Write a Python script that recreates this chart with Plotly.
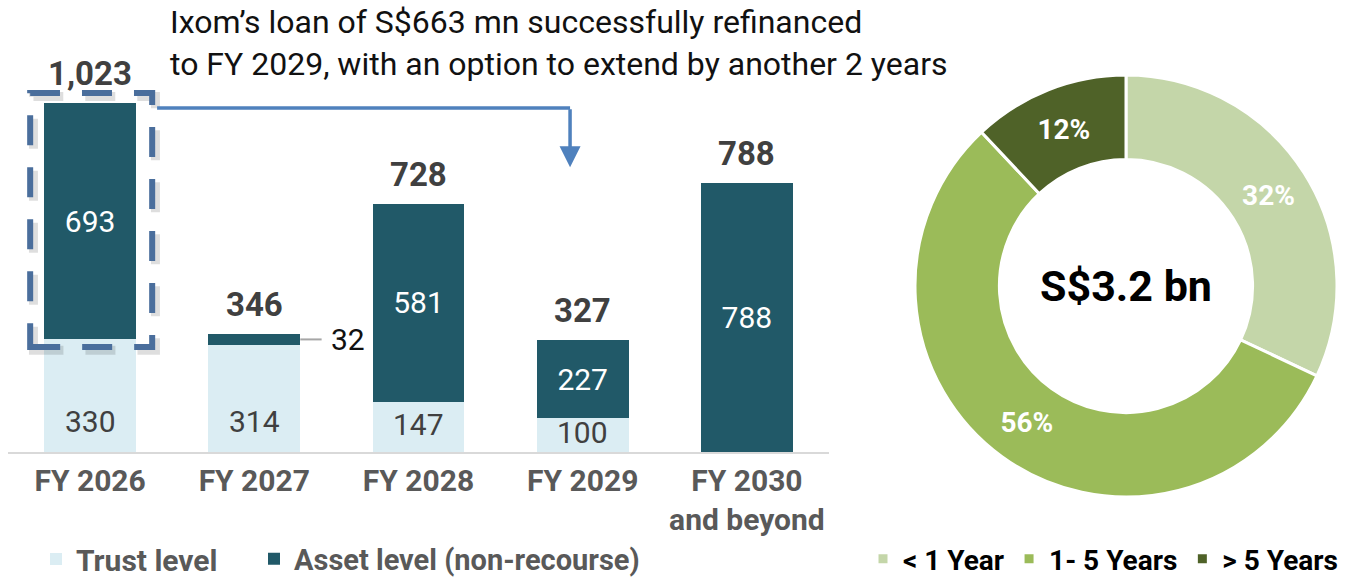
import plotly.graph_objects as go

# ---- data ----
categories = ["FY 2026", "FY 2027", "FY 2028", "FY 2029", "FY 2030<br>and beyond"]
trust_level = [330, 314, 147, 100, 0]
asset_level = [693, 32, 581, 227, 788]
totals = [1023, 346, 728, 327, 788]
total_labels = ["1,023", "346", "728", "327", "788"]

pie_labels = ["< 1 Year", "1- 5 Years", "> 5 Years"]
pie_values = [32, 56, 12]
pie_center_text = "S$3.2 bn"
note_text = "Ixom’s loan of S$663 mn successfully refinanced<br>to FY 2029, with an option to extend by another 2 years"

# ---- style ----
W, H = 1348, 578
FONT = "Roboto"
LIGHT = "#DBEDF3"
DARK = "#215968"
GRAY = "#595959"
LBL = "#404040"
PIE_COLORS = ["#C4D6A9", "#9BBB59", "#4F6228"]
BLUE = "#4F81BD"


def px(x):   # screen x -> paper fraction
    return x / W


def py(y):   # screen y -> paper fraction (from bottom)
    return 1 - y / H


x_idx = list(range(len(categories)))

fig = go.Figure()

fig.add_trace(go.Bar(
    x=x_idx, y=trust_level, name="<b>Trust level</b>",
    marker=dict(color=LIGHT, line=dict(width=0)),
    legend="legend", showlegend=True, hoverinfo="skip",
))
fig.add_trace(go.Bar(
    x=x_idx, y=asset_level, name="<b>Asset level (non-recourse)</b>",
    marker=dict(color=DARK, line=dict(width=0)),
    text=[str(v) if v > 60 else "" for v in asset_level],
    textposition="inside", insidetextanchor="middle",
    textfont=dict(family=FONT, size=30, color="white"),
    legend="legend3", showlegend=True, hoverinfo="skip",
))

# trust-level labels near the base of the bars
for i, v in enumerate(trust_level):
    if v > 0:
        fig.add_annotation(x=i, y=min(88, v / 2 + 6), text=str(v), showarrow=False,
                           xref="x", yref="y", xanchor="center", yanchor="middle",
                           font=dict(family=FONT, size=30, color=LBL))

# totals above bars
for i, (t, lab) in enumerate(zip(totals, total_labels)):
    fig.add_annotation(x=i, y=t, text=f"<b>{lab}</b>", showarrow=False,
                       yanchor="bottom", xanchor="center", yshift=8, xref="x", yref="y",
                       font=dict(family=FONT, size=33, color=LBL))

# small outside label for FY 2027 asset level
small_i = 1
small_y = trust_level[small_i] + asset_level[small_i] / 2
fig.add_shape(type="line", xref="x", yref="y",
              x0=small_i + 0.28, x1=small_i + 0.41, y0=small_y, y1=small_y,
              line=dict(color="#A6A6A6", width=2))
fig.add_annotation(x=small_i + 0.455, y=small_y, text=str(asset_level[small_i]),
                   showarrow=False, xanchor="left", yanchor="middle", xref="x", yref="y",
                   font=dict(family=FONT, size=30, color="#111111"))

# dashed highlight box around FY 2026
box_x0, box_x1 = -0.365, 0.378
box_y0, box_y1 = trust_level[0] - 22, totals[0] + 29
fig.add_shape(type="rect", xref="x", yref="y",
              x0=box_x0 + 0.02, x1=box_x1 + 0.02, y0=box_y0 - 10, y1=box_y1 - 10,
              line=dict(color="rgba(0,0,0,0.13)", width=9, dash="30px,22px"))
fig.add_shape(type="rect", xref="x", yref="y",
              x0=box_x0, x1=box_x1, y0=box_y0, y1=box_y1,
              line=dict(color="#4A6E9C", width=6, dash="30px,22px"))

# connector arrow to FY 2029
arrow_y = totals[0] - 15
arrow_end_x = 2.923
fig.add_shape(type="line", xref="x", yref="y",
              x0=box_x1 + 0.03, x1=arrow_end_x, y0=arrow_y, y1=arrow_y,
              line=dict(color=BLUE, width=3.5))
fig.add_annotation(x=arrow_end_x, y=arrow_y - 173, ax=arrow_end_x, ay=arrow_y + 1,
                   xref="x", yref="y", axref="x", ayref="y", text="",
                   showarrow=True, arrowhead=2, arrowsize=1.2, arrowwidth=3.5,
                   arrowcolor=BLUE)

# note text
fig.add_annotation(x=px(168), y=py(43.5), xref="paper", yref="paper",
                   text=note_text, showarrow=False, xanchor="left", yanchor="middle",
                   align="left", font=dict(family=FONT, size=32, color="#111111"))

# donut
cx, cy, r = 1126, 286, 211
fig.add_trace(go.Pie(
    labels=[f"<b>{l}</b>" for l in pie_labels], values=pie_values, hole=0.6, sort=False,
    direction="clockwise", rotation=0,
    marker=dict(colors=PIE_COLORS, line=dict(color="white", width=3)),
    texttemplate="<b>%{value}%</b>", textposition="inside",
    insidetextorientation="horizontal",
    textfont=dict(family=FONT, size=28, color="white"),
    domain=dict(x=[px(cx - r), px(cx + r)], y=[py(cy + r), py(cy - r)]),
    legend="legend2", hoverinfo="skip", showlegend=True,
))
fig.add_annotation(x=px(cx), y=py(cy), xref="paper", yref="paper",
                   xanchor="center", yanchor="middle",
                   text=f"<b>{pie_center_text}</b>", showarrow=False,
                   font=dict(family=FONT, size=43, color="black"))

axis_y = 452                      # px of the category axis
px_per_unit = (452 - 103) / totals[0]
fig.update_layout(
    width=W, height=H, margin=dict(l=0, r=0, t=0, b=0, autoexpand=False),
    paper_bgcolor="white", plot_bgcolor="white",
    barmode="stack", bargap=0.44, showlegend=True,
    font=dict(family=FONT),
    xaxis=dict(domain=[px(8), px(829)], range=[-0.5, 4.5],
               tickmode="array", tickvals=x_idx, ticktext=[f"<b>{c}</b>" for c in categories],
               tickfont=dict(family=FONT, size=30, color=GRAY), ticklabelstandoff=1,
               showline=True, linecolor="#D9D9D9", linewidth=2, automargin=False,
               showgrid=False, zeroline=False, ticks="", fixedrange=True),
    yaxis=dict(domain=[py(axis_y), 1], range=[0, axis_y / px_per_unit],
               visible=False, fixedrange=True, automargin=False),
    legend=dict(orientation="h", x=px(36), y=py(559), xanchor="left", yanchor="middle",
                font=dict(family=FONT, size=30, color=GRAY), itemwidth=30,
                bgcolor="rgba(0,0,0,0)"),
    legend3=dict(orientation="h", x=px(254), y=py(559), xanchor="left", yanchor="middle",
                 font=dict(family=FONT, size=29, color=GRAY), itemwidth=30,
                 bgcolor="rgba(0,0,0,0)"),
    legend2=dict(orientation="h", x=px(863), y=py(559), xanchor="left", yanchor="middle",
                 font=dict(family=FONT, size=28, color="black"), itemwidth=30,
                 bgcolor="rgba(0,0,0,0)"),
)

fig.write_html("out.html", config={"displayModeBar": False},
               post_script="document.body.style.margin='0';document.body.style.overflow='hidden';")
